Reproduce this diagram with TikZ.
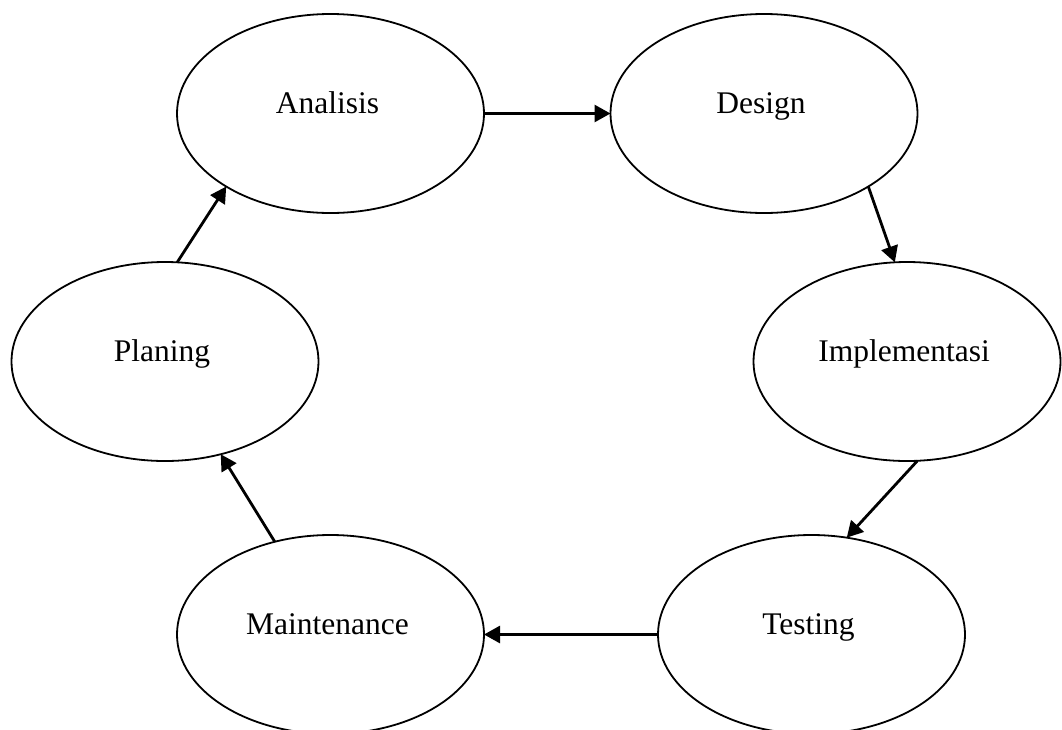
\documentclass[tikz,border=0pt]{standalone}
\usepackage{fontspec}
\setmainfont{Liberation Serif}
\usetikzlibrary{arrows.meta,shapes.geometric}
\tikzset{
  stage/.style={ellipse, draw=black, line width=1.8pt, minimum width=307pt, minimum height=199pt, inner sep=0pt, outer sep=0pt},
  lbl/.style={anchor=base, inner sep=0pt, font=\fontsize{31.5pt}{37pt}\selectfont, xshift=-3pt},
  flow/.style={line width=2.8pt, -{Triangle[length=16pt,width=17pt]}}
}
\begin{document}
\begin{tikzpicture}[x=1pt,y=-1pt]
\useasboundingbox (0,0) rectangle (1062,729);
\clip (0,0) rectangle (1062,729);
\node[stage] (a) at (330.5,113.5) {};
\node[stage] (d) at (764,113.5) {};
\node[stage] (i) at (907,361.5) {};
\node[stage] (t) at (811.5,634.5) {};
\node[stage] (m) at (330.5,634.5) {};
\node[stage] (p) at (165,361.5) {};
\node[lbl] (la) at (a.center) {Analisis};
\node[lbl] (ld) at (d.center) {Design};
\node[lbl] (li) at (i.center) {Implementasi};
\node[lbl] (lt) at (t.center) {Testing};
\node[lbl] (lm) at (m.center) {Maintenance};
\node[lbl] (lp) at (p.center) {Planing};
\draw[flow] (a.0) -- (d.180);
\draw[flow] (d.-35) -- (i.97);
\draw[flow] (i.-84) -- (t.70);
\draw[flow] (t.180) -- (m.0);
\draw[flow] (m.121) -- (p.-59);
\draw[flow] (p.83) -- (a.-145);
\end{tikzpicture}
\end{document}
